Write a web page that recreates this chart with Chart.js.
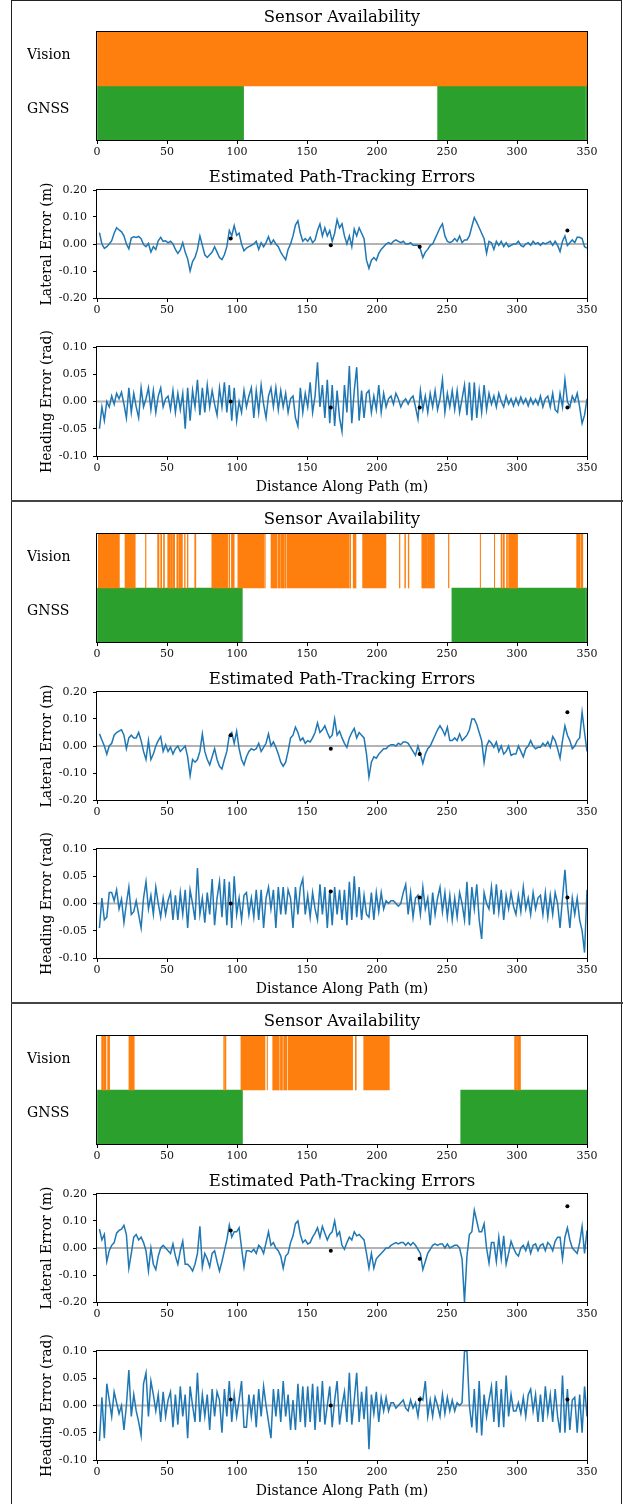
<!DOCTYPE html>
<html>
<head>
<meta charset="utf-8">
<script src="https://cdn.jsdelivr.net/npm/chart.js@4.4.1/dist/chart.umd.min.js"></script>
<style>
  body { margin: 0; background: #fff; }
  #page { position: relative; width: 623px; height: 1504px; overflow: hidden; background: #fff; }
  canvas { position: absolute; left: 0; }
  .rule { position: absolute; background: #222; }
</style>
</head>
<body>
<div id="page">
  <div class="rule" style="left:11px;top:0;width:1px;height:1504px"></div>
  <div class="rule" style="left:621px;top:0;width:1px;height:1504px"></div>
  <div class="rule" style="left:11px;top:0;width:611px;height:1px"></div>
  <div class="rule" style="left:11px;top:500px;width:612px;height:2px;background:#444"></div>
  <div class="rule" style="left:11px;top:1002px;width:612px;height:2px;background:#444"></div>
</div>
<script>
// ---- data ----
const sensorRows = ['Vision', 'GNSS'];
const xTicks = [0, 50, 100, 150, 200, 250, 300, 350];
const sampleStep = 1.75; // metres between error samples

// availability intervals [start, end] in metres
const visionRuns1 = [[0, 350]];
const gnssRuns1 = [[0, 27.7], [28.0, 104.7], [243.3, 348.8], [349.1, 350]];

const visionRuns2 = [[0.9, 16], [20, 27.3], [34.6, 35], [43.3, 44.3], [45.5, 46.2], [47.5, 48.2], [50.5, 52],
  [52.5, 53.5], [54, 55.5], [57, 58], [58.5, 61], [62.5, 63], [64.5, 65], [69.8, 70.6], [82, 93.3], [94.2, 94.8],
  [96, 98], [100.6, 119.3], [119.8, 120.2], [124.3, 128.6], [129.3, 131], [131.6, 133.5], [134, 135], [135.7, 180.2],
  [180.8, 181.2], [183, 185], [189.7, 206.4], [216, 216.4], [219.8, 220.4], [222.3, 222.8], [232, 235.5], [236, 241],
  [251, 251.4], [273.7, 274], [283.8, 284.1], [288.6, 289.2], [290, 291], [292.5, 293.2], [294, 300.4],
  [342.6, 344.8], [345.5, 347]];
const gnssRuns2 = [[0, 103.8], [253.5, 348.9], [349.2, 350]];

const visionRuns3 = [[3.3, 4.7], [5.2, 6.4], [7.6, 9.0], [22.8, 26.6], [90.5, 91], [91.4, 92.1], [102.8, 120],
  [121.5, 121.8], [125.5, 130.2], [131, 132.5], [133.3, 135.7], [136.6, 182.6], [184.5, 185.2], [190.5, 208.8],
  [298.3, 299.7], [300.3, 302.5]];
const gnssRuns3 = [[0, 103.9], [259.8, 350]];

// lateral error (m)
const lateral1 = [
  0.042, 0.0, -0.016, -0.01, 0.0, 0.012, 0.04, 0.06, 0.052, 0.045,
  0.03, 0.0, -0.018, 0.022, 0.027, 0.024, 0.028, 0.02, -0.002, -0.01,
  0.002, -0.03, -0.01, -0.02, 0.012, 0.025, 0.01, 0.012, 0.004, 0.01,
  0.0, -0.02, -0.035, -0.022, 0.005, -0.03, -0.055, -0.1, -0.065, -0.05,
  -0.02, 0.03, -0.005, -0.04, -0.05, -0.04, -0.03, -0.01, -0.03, -0.05,
  -0.058, -0.04, -0.01, 0.05, 0.03, 0.068, 0.032, 0.04, 0.0, -0.025,
  -0.015, -0.01, -0.005, 0.0, 0.01, -0.02, 0.005, -0.01, 0.005, 0.027,
  0.0, 0.015, 0.0, -0.01, -0.03, -0.045, -0.058, -0.02, 0.0, 0.03,
  0.07, 0.086, 0.04, 0.01, 0.02, 0.01, 0.025, 0.005, 0.015, 0.05,
  0.074, 0.03, 0.06, 0.03, 0.05, 0.01, 0.04, 0.09, 0.06, 0.075,
  0.03, 0.0, 0.03, -0.01, 0.055, 0.03, 0.06, 0.04, 0.02, -0.06,
  -0.09, -0.06, -0.05, -0.06, -0.035, -0.02, -0.01, 0.0, 0.005, 0.0,
  0.01, 0.015, 0.01, 0.005, 0.01, 0.0, 0.0, 0.005, -0.005, -0.005,
  -0.005, -0.02, -0.05, -0.03, -0.02, -0.005, 0.0, 0.02, 0.04, 0.06,
  0.075, 0.03, 0.01, 0.005, 0.01, 0.02, 0.01, 0.03, 0.005, 0.015,
  0.015, 0.03, 0.065, 0.098, 0.08, 0.06, 0.04, 0.02, -0.034, 0.01,
  0.005, -0.02, 0.01, -0.005, 0.01, -0.01, 0.005, -0.01, -0.005, 0.0,
  0.0, 0.01, -0.005, -0.01, 0.0, 0.005, -0.005, 0.01, 0.0, 0.005,
  -0.005, 0.005, 0.0, 0.005, 0.01, -0.005, 0.01, -0.005, -0.028, 0.01,
  0.03, -0.005, 0.005, 0.015, 0.005, 0.025, 0.025, 0.02, -0.01, -0.015
];
const lateral2 = [
  0.045, 0.022, 0.0, -0.03, 0.0, 0.01, 0.04, 0.05, 0.055, 0.06,
  0.04, -0.01, 0.03, 0.04, 0.03, 0.03, 0.05, 0.02, -0.02, -0.05,
  0.02, -0.05, -0.03, 0.0, 0.02, 0.035, -0.02, 0.005, -0.02, -0.005,
  -0.03, -0.01, 0.0, -0.02, -0.01, 0.0, -0.04, -0.11, -0.05, -0.06,
  -0.05, -0.02, 0.045, -0.02, -0.05, -0.07, -0.04, -0.01, -0.05, -0.075,
  -0.085, -0.05, -0.02, 0.04, 0.05, 0.01, 0.055, -0.01, -0.05, -0.07,
  -0.04, -0.02, -0.01, -0.015, -0.01, 0.01, -0.02, -0.005, 0.01, 0.045,
  0.0, 0.015, -0.005, -0.03, -0.06, -0.075, -0.06, -0.02, 0.03, 0.04,
  0.07, 0.05, 0.02, 0.03, 0.01, 0.02, 0.015, 0.03, 0.05, 0.085,
  0.05, 0.06, 0.075, 0.05, 0.03, 0.04, 0.1, 0.04, 0.055, 0.03,
  0.01, -0.005, 0.03, 0.05, 0.065, 0.03, 0.05, 0.04, 0.03, -0.03,
  -0.115, -0.06, -0.04, -0.045, -0.03, -0.02, -0.01, -0.01, 0.0, 0.005,
  0.005, 0.0, 0.01, 0.005, 0.015, 0.015, 0.01, -0.005, -0.02, -0.035,
  0.0, -0.03, -0.065, -0.03, -0.01, 0.0, 0.02, 0.04, 0.06, 0.075,
  0.06, 0.04, 0.07, 0.02, 0.02, 0.03, 0.02, 0.045, 0.02, 0.03,
  0.04, 0.06, 0.1, 0.1, 0.08, 0.05, 0.02, -0.06, 0.0, 0.02,
  0.01, -0.005, 0.015, -0.02, 0.0, -0.03, -0.02, 0.0, -0.035, -0.03,
  -0.03, 0.0, -0.02, -0.04, -0.01, 0.0, 0.02, 0.0, -0.01, -0.005,
  -0.005, 0.01, 0.0, 0.015, -0.005, 0.035, 0.02, -0.01, -0.045, 0.02,
  0.075, 0.04, 0.02, -0.01, 0.0, 0.02, 0.03, 0.125, 0.05, -0.02
];
const lateral3 = [
  0.07, 0.03, 0.05, -0.05, -0.01, 0.01, 0.02, 0.055, 0.065, 0.07,
  0.084, 0.05, -0.075, -0.02, 0.04, 0.05, 0.03, 0.04, 0.02, -0.01,
  -0.085, 0.0, -0.06, -0.08, -0.03, 0.0, 0.01, 0.0, -0.01, -0.02,
  0.015, -0.03, -0.06, -0.01, 0.025, -0.06, -0.06, -0.07, -0.085, -0.06,
  -0.02, 0.08, -0.07, -0.02, -0.04, -0.07, -0.02, -0.01, -0.05, -0.085,
  -0.05, -0.01, 0.03, 0.085, 0.04, 0.06, 0.06, 0.075, 0.0, -0.07,
  -0.01, -0.01, -0.015, -0.005, -0.02, 0.01, 0.0, -0.02, 0.02, 0.06,
  0.01, 0.02, 0.0, -0.01, -0.03, -0.075, -0.03, -0.02, 0.02, 0.045,
  0.09, 0.1, 0.05, 0.02, 0.03, 0.015, 0.02, 0.04, 0.055, 0.075,
  0.04, 0.08, 0.055, 0.03, 0.05, 0.06, 0.1, 0.045, 0.06, 0.01,
  -0.005, 0.02, 0.04, 0.03, 0.06, 0.045, 0.05, 0.04, 0.03, -0.02,
  -0.075, -0.02, -0.075, -0.04, -0.03, -0.02, -0.01, 0.0, 0.0, 0.01,
  0.015, 0.02, 0.015, 0.02, 0.02, 0.01, 0.02, 0.01, 0.02, 0.01,
  -0.005, -0.02, -0.08, -0.05, -0.02, -0.005, 0.01, 0.015, 0.01, 0.015,
  0.015, 0.0, 0.015, 0.0, 0.005, 0.01, 0.01, 0.0, -0.04, -0.2,
  -0.03, 0.05, 0.06, 0.14, 0.1, 0.06, 0.06, 0.09, 0.0, -0.055,
  0.02, 0.02, -0.05, 0.04, -0.04, 0.045, -0.06, -0.02, 0.025, 0.0,
  -0.02, -0.03, 0.0, 0.01, -0.01, 0.02, -0.02, 0.01, 0.015, -0.01,
  0.01, 0.015, -0.01, 0.02, 0.01, -0.01, 0.025, 0.04, 0.04, -0.04,
  0.04, 0.075, 0.03, 0.0, -0.01, -0.02, 0.02, 0.08, -0.02, 0.065
];

// heading error (rad)
const heading1 = [
  -0.05, -0.01, -0.035, 0.0, -0.01, 0.01, -0.005, 0.015, 0.005, 0.017,
  -0.005, -0.03, 0.025, -0.02, 0.015, -0.01, -0.03, 0.025, -0.01, 0.005,
  0.025, -0.015, 0.02, -0.02, 0.01, 0.025, -0.01, 0.005, 0.01, -0.015,
  0.02, -0.02, 0.015, -0.015, 0.015, -0.05, 0.025, -0.035, 0.02, -0.01,
  0.04, -0.025, 0.025, -0.02, 0.03, -0.01, 0.02, -0.005, -0.025, 0.025,
  -0.01, 0.035, -0.02, 0.03, -0.035, 0.025, -0.035, 0.0, -0.02, 0.02,
  -0.01, 0.01, 0.025, -0.03, 0.02, -0.02, 0.03, -0.005, -0.03, 0.01,
  0.025, -0.01, 0.025, -0.015, 0.02, -0.01, 0.015, -0.02, 0.005, 0.01,
  -0.03, -0.045, 0.025, -0.02, 0.015, -0.01, 0.035, -0.02, 0.01, 0.072,
  -0.01, 0.03, -0.03, 0.04, -0.04, 0.03, -0.045, 0.02, -0.03, -0.055,
  0.03, -0.02, 0.065, -0.04, 0.02, 0.063, -0.035, 0.02, -0.03, 0.015,
  0.02, -0.02, 0.01, -0.015, 0.03, -0.02, 0.015, -0.01, 0.005, 0.01,
  -0.005, 0.015, 0.005, -0.01, 0.0, 0.005, -0.005, 0.005, 0.01, -0.01,
  -0.032, 0.02, -0.015, 0.01, -0.02, 0.015, -0.01, 0.02, -0.015, 0.005,
  0.04, -0.02, 0.015, -0.01, 0.02, -0.015, 0.02, -0.02, 0.005, 0.03,
  -0.025, 0.035, -0.035, 0.035, -0.03, 0.02, -0.02, 0.03, -0.015, 0.015,
  -0.005, 0.01, -0.01, 0.015, 0.0, -0.01, 0.01, -0.005, 0.005, -0.008,
  0.006, -0.006, 0.008, -0.004, 0.005, -0.008, 0.006, -0.005, 0.004, -0.006,
  0.01, -0.01, 0.005, 0.01, -0.01, 0.015, -0.015, -0.02, 0.015, -0.01,
  0.04, 0.0, -0.01, 0.01, 0.0, 0.015, -0.01, -0.04, -0.025, 0.005
];
const heading2 = [
  -0.045, 0.01, -0.03, -0.025, 0.02, 0.02, 0.005, 0.025, -0.01, 0.008,
  -0.035, 0.0, 0.03, -0.02, -0.015, 0.005, -0.02, -0.045, 0.01, 0.04,
  -0.01, 0.015, -0.02, 0.03, 0.0, -0.025, 0.01, -0.02, 0.005, 0.02,
  -0.03, 0.015, -0.03, 0.02, -0.02, 0.025, -0.045, 0.025, 0.0, -0.03,
  0.065, -0.02, 0.01, -0.035, 0.02, -0.02, 0.045, -0.04, 0.01, 0.04,
  -0.025, 0.045, -0.04, 0.04, -0.045, 0.05, -0.02, 0.01, -0.03, 0.015,
  0.02, -0.02, 0.01, -0.025, 0.025, -0.03, 0.025, -0.045, 0.01, 0.03,
  -0.01, 0.025, -0.045, 0.03, -0.02, 0.03, -0.02, 0.025, 0.01, -0.045,
  0.03, -0.02, 0.03, 0.045, -0.02, 0.015, -0.025, 0.02, -0.01, -0.03,
  0.035, -0.02, 0.03, -0.045, 0.025, -0.04, 0.03, -0.02, 0.025, -0.03,
  0.025, -0.04, 0.04, -0.03, 0.05, -0.025, 0.03, -0.03, 0.015, -0.02,
  -0.025, 0.02, -0.03, 0.02, -0.015, 0.02, -0.01, 0.005, 0.0, 0.005,
  0.005, 0.0, -0.005, 0.0, 0.02, 0.035, -0.02, 0.02, -0.025, 0.01,
  0.015, -0.02, 0.03, -0.01, 0.01, -0.04, 0.02, -0.02, 0.01, 0.03,
  -0.015, 0.02, -0.025, 0.015, -0.03, 0.01, -0.025, 0.02, 0.0, -0.03,
  0.04, -0.04, 0.03, -0.01, 0.035, -0.03, -0.065, 0.02, 0.0, -0.01,
  0.03, -0.02, 0.035, -0.015, 0.025, -0.03, 0.015, -0.01, 0.02, -0.005,
  -0.02, 0.015, -0.015, 0.03, -0.01, 0.01, -0.02, 0.02, -0.01, 0.01,
  0.015, -0.02, 0.02, -0.025, 0.015, -0.02, 0.02, 0.0, -0.045, 0.01,
  0.062, 0.0, -0.045, 0.01, -0.02, 0.01, -0.03, -0.05, -0.09, 0.025
];
const heading3 = [
  -0.065, 0.015, -0.06, 0.04, 0.01, -0.02, 0.025, 0.005, -0.015, 0.0,
  -0.045, 0.0, 0.065, -0.02, 0.02, -0.01, -0.03, -0.055, 0.04, 0.06,
  -0.02, 0.045, 0.02, -0.01, 0.02, -0.03, 0.025, -0.02, 0.01, 0.025,
  -0.04, 0.02, -0.035, 0.035, -0.02, 0.02, -0.06, 0.035, 0.0, -0.03,
  0.06, -0.03, 0.02, -0.02, 0.02, -0.045, 0.03, -0.02, 0.025, 0.01,
  -0.05, 0.03, -0.02, 0.045, -0.03, 0.02, -0.02, 0.01, 0.045, -0.04,
  -0.04, 0.02, -0.02, 0.02, -0.04, 0.03, -0.02, 0.035, 0.0, -0.03,
  -0.06, 0.03, -0.02, 0.03, -0.03, 0.045, -0.02, 0.02, -0.045, 0.01,
  -0.045, 0.04, -0.03, 0.035, -0.04, 0.035, -0.03, 0.04, -0.045, 0.035,
  -0.03, 0.045, -0.035, 0.0, 0.035, -0.04, 0.01, 0.045, -0.035, 0.0,
  0.025, -0.03, 0.06, -0.035, 0.01, 0.06, -0.03, 0.025, -0.025, 0.035,
  -0.08, 0.02, -0.015, 0.025, -0.03, 0.015, -0.01, 0.015, -0.01, 0.005,
  0.005, -0.005, 0.0, 0.005, 0.01, -0.005, -0.01, 0.01, -0.005, 0.005,
  -0.02, 0.015, 0.01, 0.045, -0.02, 0.01, -0.02, 0.015, 0.0, -0.02,
  0.02, -0.015, 0.015, -0.01, 0.01, -0.01, 0.005, 0.0, 0.005, 0.1,
  0.1, 0.0, -0.04, 0.03, -0.05, 0.045, -0.055, 0.02, -0.02, 0.01,
  0.035, -0.03, 0.045, -0.04, 0.03, -0.04, 0.055, -0.02, 0.02, -0.01,
  -0.01, 0.005, -0.015, 0.015, -0.02, 0.02, 0.03, -0.01, 0.02, -0.03,
  0.02, -0.03, 0.035, -0.015, 0.02, -0.03, 0.03, -0.02, -0.05, 0.055,
  -0.05, 0.03, -0.045, 0.01, 0.015, -0.05, 0.02, -0.05, 0.035, -0.02
];

// black reference dots
const markerDist = [95.5, 167, 230.5, 336];
const lateralMarks1 = [0.02, -0.005, -0.01, 0.05];
const headingMarks1 = [0.0, -0.011, -0.011, -0.011];
const lateralMarks2 = [0.04, -0.01, -0.03, 0.125];
const headingMarks2 = [0.0, 0.022, 0.011, 0.011];
const lateralMarks3 = [0.065, -0.01, -0.04, 0.155];
const headingMarks3 = [0.011, 0.0, 0.011, 0.011];

// ---- drawing ----
const FONT = "'DejaVu Serif', serif";
const BLUE = '#1f77b4';
const ORANGE = '#ff7f0e';
const GREEN = '#2ca02c';
Chart.defaults.font.family = FONT;
Chart.defaults.color = '#111';

const PLOT_LEFT = 97;
const PAD_RIGHT = 36;
const TICK_SIZE = 11;

// frame around the plot area, like matplotlib spines
const boxPlugin = {
  id: 'box',
  afterDatasetsDraw(chart) {
    const { ctx, chartArea: a } = chart;
    ctx.save();
    ctx.strokeStyle = '#000';
    ctx.lineWidth = 1;
    ctx.strokeRect(Math.round(a.left) - 0.5, Math.round(a.top) - 0.5,
      Math.round(a.right - a.left) + 1, Math.round(a.bottom - a.top) + 1);
    ctx.restore();
  }
};

function addCanvas(top, height) {
  const c = document.createElement('canvas');
  c.width = 623;
  c.height = height;
  c.style.top = top + 'px';
  document.getElementById('page').appendChild(c);
  return c;
}

const tickGrid = { display: true, drawOnChartArea: false, drawTicks: true, tickLength: 4, tickColor: '#000' };

function xAxis(height, title) {
  return {
    type: 'linear', min: 0, max: 350,
    afterBuildTicks: (s) => { s.ticks = xTicks.map(v => ({ value: v })); },
    ticks: { font: { size: TICK_SIZE }, padding: 2, maxRotation: 0, autoSkip: false, callback: v => v },
    grid: tickGrid,
    border: { display: false },
    title: title ? { display: true, text: title, font: { size: 14 }, color: '#000', padding: { top: 0, bottom: 4 } }
                 : { display: false },
    afterFit: (s) => { s.height = height; }
  };
}

function drawSensors(top, vision, gnss) {
  const canvas = addCanvas(top, 170);
  const toBars = (runs, row) => runs.map(r => ({ x: r, y: row }));
  new Chart(canvas, {
    type: 'bar',
    data: {
      labels: sensorRows,
      datasets: [
        { data: toBars(vision, 'Vision'), backgroundColor: ORANGE, grouped: false },
        { data: toBars(gnss, 'GNSS'), backgroundColor: GREEN, grouped: false }
      ]
    },
    options: {
      indexAxis: 'y',
      responsive: false,
      animation: false,
      events: [],
      categoryPercentage: 1,
      barPercentage: 1,
      layout: { padding: { left: 27, right: PAD_RIGHT } },
      plugins: {
        legend: { display: false },
        tooltip: { enabled: false },
        title: { display: true, text: 'Sensor Availability', fullSize: false, color: '#000',
                 font: { size: 16.5, weight: 'normal' }, padding: { top: 8.1, bottom: 4.1 } }
      },
      scales: {
        x: xAxis(30),
        y: {
          type: 'category',
          grid: { display: false },
          border: { display: false },
          ticks: { font: { size: 14 }, color: '#000', crossAlign: 'far', labelOffset: -4, padding: 0 },
          afterFit: (s) => { s.width = PLOT_LEFT - 27; }
        }
      }
    },
    plugins: [boxPlugin]
  });
}

function drawErrors(top, height, padTop, values, marks, cfg) {
  const canvas = addCanvas(top, height);
  new Chart(canvas, {
    type: 'line',
    data: {
      datasets: [
        { data: markerDist.map((d, i) => ({ x: d, y: marks[i] })), showLine: false,
          pointRadius: 2, pointBackgroundColor: '#000', pointBorderWidth: 0 },
        { data: values.map((v, i) => ({ x: (i + 1) * sampleStep, y: v })), borderColor: BLUE,
          borderWidth: 1.5, pointRadius: 0, tension: 0 },
        { data: [{ x: 0, y: 0 }, { x: 350, y: 0 }], borderColor: 'rgba(128,128,128,0.6)',
          borderWidth: 2, pointRadius: 0 }
      ]
    },
    options: {
      responsive: false,
      animation: false,
      events: [],
      layout: { padding: { top: padTop, right: PAD_RIGHT } },
      plugins: {
        legend: { display: false },
        tooltip: { enabled: false },
        title: cfg.title
          ? { display: true, text: cfg.title, fullSize: false, color: '#000',
              font: { size: 16.5, weight: 'normal' }, padding: { top: 3, bottom: 2.2 } }
          : { display: false }
      },
      scales: {
        x: xAxis(cfg.xHeight, cfg.xTitle),
        y: {
          type: 'linear', min: -cfg.limit, max: cfg.limit,
          ticks: { stepSize: cfg.step, font: { size: TICK_SIZE }, padding: 6,
                   callback: v => (Math.abs(v) < 1e-9 ? 0 : v).toFixed(2) },
          grid: tickGrid,
          border: { display: false },
          title: { display: true, text: cfg.yTitle, font: { size: 14 }, color: '#000', padding: { top: 38.6, bottom: 0 } },
          afterFit: (s) => { s.width = PLOT_LEFT; }
        }
      }
    },
    plugins: [boxPlugin]
  });
}

const panels = [
  { y0: 0, vision: visionRuns1, gnss: gnssRuns1, lat: lateral1, latMarks: lateralMarks1, head: heading1, headMarks: headingMarks1 },
  { y0: 502, vision: visionRuns2, gnss: gnssRuns2, lat: lateral2, latMarks: lateralMarks2, head: heading2, headMarks: headingMarks2 },
  { y0: 1004, vision: visionRuns3, gnss: gnssRuns3, lat: lateral3, latMarks: lateralMarks3, head: heading3, headMarks: headingMarks3 }
];

panels.forEach(p => {
  drawSensors(p.y0, p.vision, p.gnss);
  drawErrors(p.y0 + 165, 155, 0, p.lat, p.latMarks,
    { title: 'Estimated Path-Tracking Errors', yTitle: 'Lateral Error (m)', limit: 0.2, step: 0.1, xHeight: 22 });
  drawErrors(p.y0 + 320, 180, 27, p.head, p.headMarks,
    { yTitle: 'Heading Error (rad)', xTitle: 'Distance Along Path (m)', limit: 0.1, step: 0.05, xHeight: 44 });
});
</script>
</body>
</html>
